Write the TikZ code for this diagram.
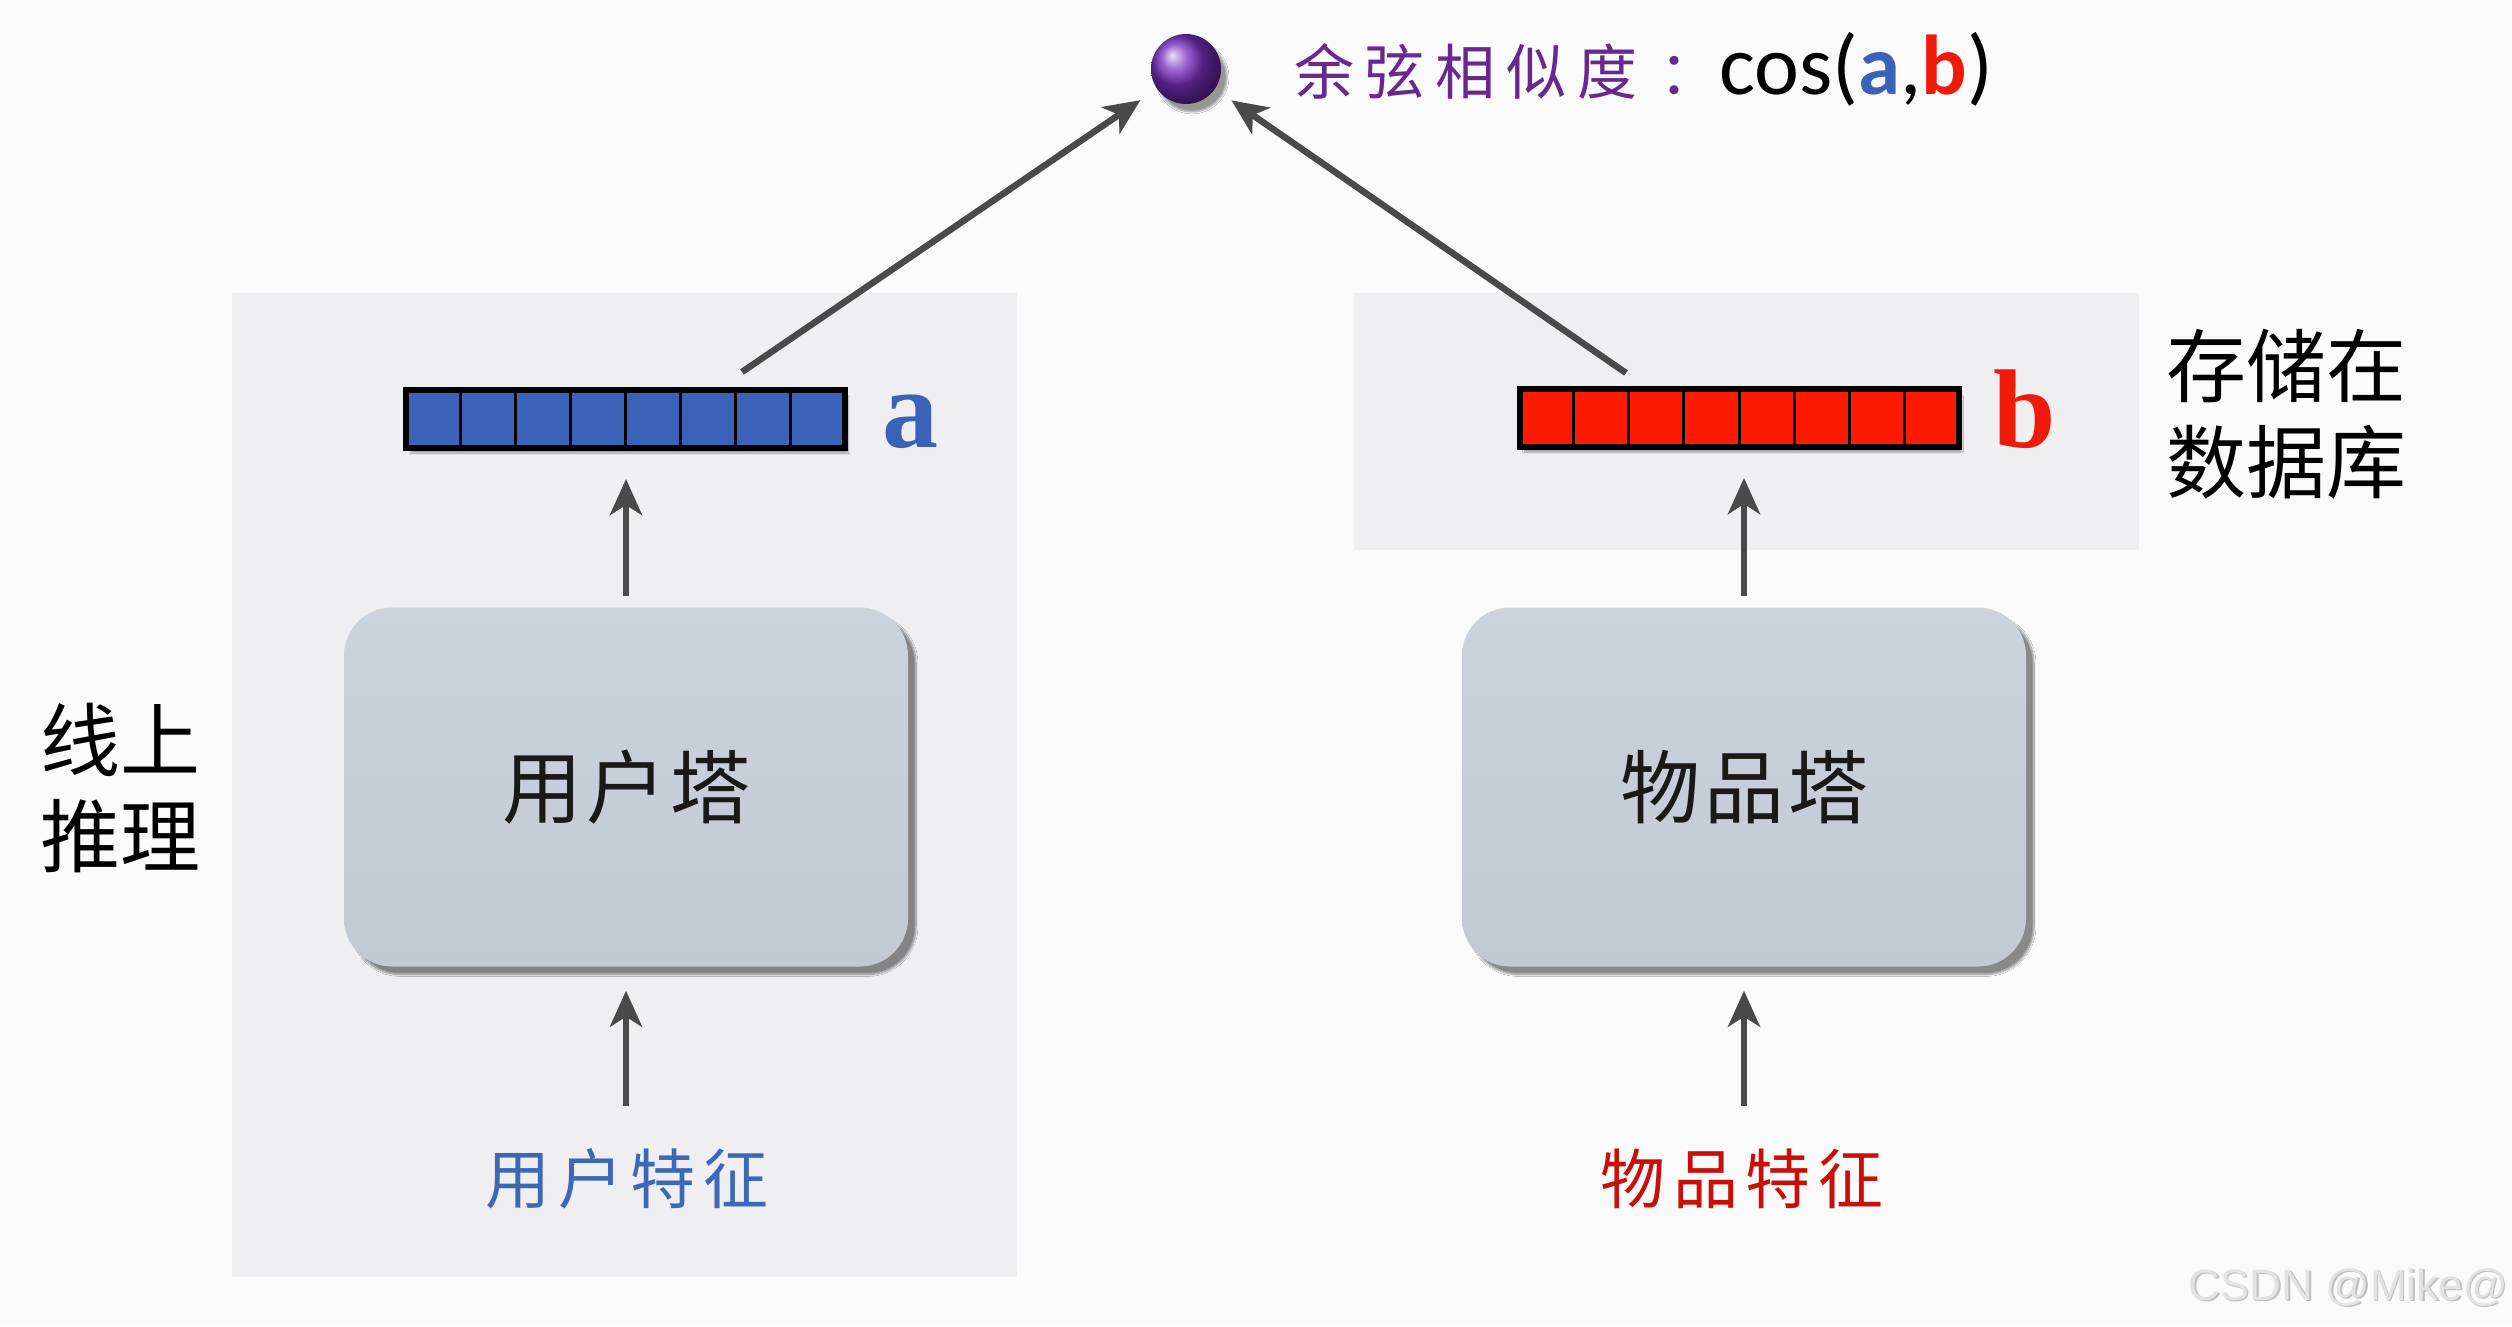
\documentclass[tikz,border=0pt]{standalone}
\usepackage{fontspec}
\setmainfont{Liberation Serif}
\newfontfamily\cjk{Noto Sans CJK SC}
\newfontfamily\cjksp[LetterSpace=18]{Noto Sans CJK SC}
\newfontfamily\cjkfeat[LetterSpace=12]{Noto Sans CJK SC}
\newfontfamily\cjktow[LetterSpace=5]{Noto Sans CJK SC}
\newfontfamily\carl{Carlito}
\newfontfamily\wmfont{Liberation Sans}
\usetikzlibrary{arrows.meta,shadows,shadows.blur,calc}
\definecolor{bgc}{HTML}{FBFAFA}
\definecolor{panelc}{HTML}{EFEEF1}
\definecolor{bluecell}{HTML}{3A62B8}
\definecolor{redcell}{HTML}{FF1A00}
\definecolor{towertop}{HTML}{CDD3DC}
\definecolor{towerbot}{HTML}{C3C9D3}
\definecolor{arrowgray}{HTML}{4A4A4A}
\definecolor{purpletext}{HTML}{67298F}
\definecolor{balltone}{HTML}{7A2FC0}
\definecolor{bluetext}{HTML}{3D68B8}
\definecolor{redtext}{HTML}{C8100A}
\definecolor{redletter}{HTML}{F01A0A}
\definecolor{wmgray}{HTML}{E2E2E2}
\tikzset{
  panel/.style={fill=panelc, draw=none},
  vecbox/.style={draw=black, line width=4pt, minimum width=437pt, minimum height=56pt, inner sep=0pt,
     blur shadow={shadow xshift=4pt, shadow yshift=-6pt, shadow blur steps=8, shadow opacity=35}},
  tower/.style={rounded corners=48pt, minimum width=564pt, minimum height=359pt, inner sep=0pt,
     top color=towertop, bottom color=towerbot, draw=none,
     blur shadow={shadow xshift=8pt, shadow yshift=-8pt, shadow blur steps=10, shadow opacity=45},
     font=\cjktow\fontsize{80}{90}\selectfont, text=black!90},
  arr/.style={draw=arrowgray, line width=6.5pt, -{Stealth[length=36pt,width=32pt,inset=10pt]}},
  sidetext/.style={font=\cjk\fontsize{80}{96}\selectfont, align=center, inner sep=0pt},
  feat/.style={font=\cjkfeat\fontsize{65}{75}\selectfont, inner sep=0pt, anchor=base},
  letter/.style={font=\bfseries\fontsize{112}{120}\selectfont, inner sep=0pt, anchor=base west}
}
\begin{document}
\begin{tikzpicture}[x=1pt,y=-1pt]
\useasboundingbox (0,0) rectangle (2512,1326);
\fill[bgc] (0,0) rectangle (2512,1326);
% panels
\fill[panel] (232,293) rectangle (1017,1277);
\fill[panel] (1354,293) rectangle (2139,550);
% vectors
\node[vecbox, fill=bluecell] (veca) at (625.5,419) {};
\node[vecbox, fill=redcell] (vecb) at (1739,418) {};
\foreach \i in {1,...,7}{
  \draw[line width=3pt] ($(veca.north west)!\i/8!(veca.north east)$) -- ($(veca.south west)!\i/8!(veca.south east)$);
  \draw[line width=3pt] ($(vecb.north west)!\i/8!(vecb.north east)$) -- ($(vecb.south west)!\i/8!(vecb.south east)$);
}
\draw[line width=4pt] (veca.north west) rectangle (veca.south east);
\draw[line width=4pt] (vecb.north west) rectangle (vecb.south east);
\node[letter, text=bluecell] (la) at (882,447) {a};
\node[letter, text=redletter] (lb) at (1993,447) {b};
% towers
\node[tower] (utower) at (626,787) {用户塔};
\node[tower] (itower) at (1744,787) {物品塔};
% features
\node[feat, text=bluetext] (ufeat) at (627,1203) {用户特征};
\node[feat, text=redtext] (ifeat) at (1742,1203) {物品特征};
% ball and title
\node[circle, minimum size=70pt, inner sep=0pt, shading=ball, ball color=balltone,
  blur shadow={shadow xshift=6pt, shadow yshift=-8pt, shadow blur steps=8, shadow opacity=40}] (ball) at (1186,69) {};
\node[inner sep=0pt, anchor=base west] (title) at (1294,94)
  {{\cjksp\fontsize{60}{70}\selectfont\color{purpletext}余弦相似度}\hspace{22pt}{\cjk\fontsize{60}{70}\selectfont\color{purpletext}：}{\carl\fontsize{85}{96}\selectfont cos(\textcolor{bluecell}{\bfseries a},\textcolor{redletter}{\bfseries b})}};
% side labels
\node[sidetext] (online) at (120,788) {线上\\推理};
\node[sidetext] (store) at (2286,414) {存储在\\数据库};
% connectors
\draw[arr, shorten <=11pt, shorten >=30pt] (utower.north) -- (utower.north |- veca.south);
\draw[arr, shorten <=11pt, shorten >=30pt] (itower.north) -- (itower.north |- vecb.south);
\draw[arr, shorten <=42pt, shorten >=24pt] (ufeat.north -| utower.south) -- (utower.south);
\draw[arr, shorten <=42pt, shorten >=24pt] (ifeat.north -| itower.south) -- (itower.south);
\coordinate (sa) at (742,372);
\coordinate (sb) at (1626,373);
\draw[arr, shorten >=20pt] (sa) -- (ball);
\draw[arr, shorten >=20pt] (sb) -- (ball);
% watermark
\node[inner sep=0pt, anchor=base east, font=\wmfont\fontsize{44}{50}\selectfont, text=black!25] at (2509.5,1301.5) {CSDN @Mike@};
\node[inner sep=0pt, anchor=base east, font=\wmfont\fontsize{44}{50}\selectfont, text=wmgray] (wm) at (2508,1300) {CSDN @Mike@};
\end{tikzpicture}
\end{document}
